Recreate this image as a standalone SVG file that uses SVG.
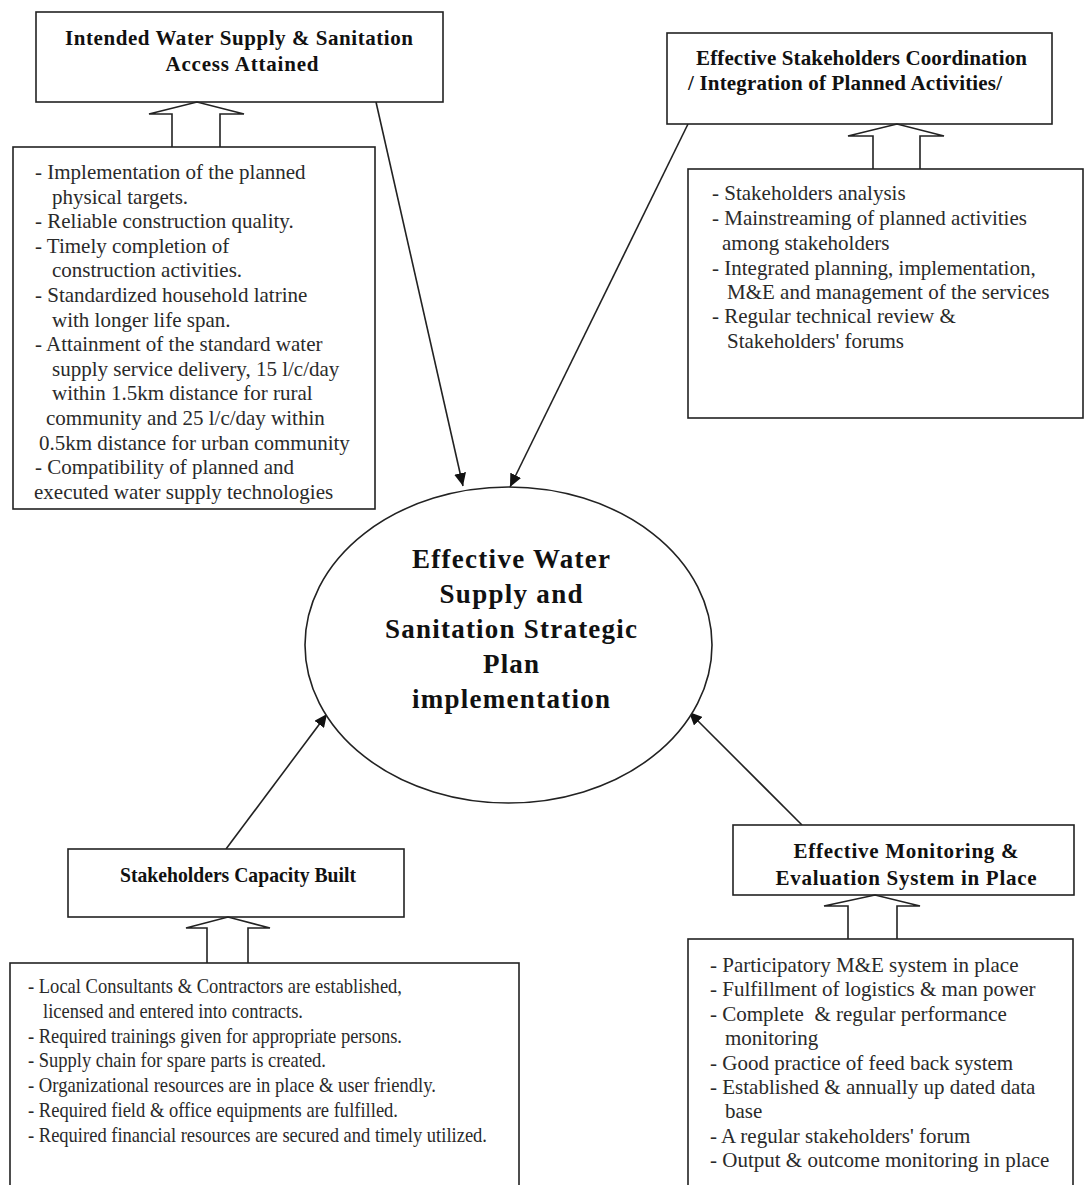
<svg xmlns="http://www.w3.org/2000/svg" width="1084" height="1185" viewBox="0 0 1084 1185">
<style>
.box{fill:#fff;stroke:#222;stroke-width:1.6}
.harrow{fill:#fff;stroke:#222;stroke-width:1.6;stroke-linejoin:miter}
.title{font-family:"Liberation Serif","Times New Roman",serif;font-weight:bold;font-size:21px;fill:#111}
.body{font-family:"Liberation Serif","Times New Roman",serif;font-size:21px;fill:#2a2a2a}
.big{font-family:"Liberation Serif","Times New Roman",serif;font-weight:bold;font-size:27px;fill:#111;text-anchor:middle}
.conn{stroke:#222;stroke-width:1.6;fill:none;marker-end:url(#ah)}
</style>
<defs>
<marker id="ah" markerUnits="userSpaceOnUse" markerWidth="14" markerHeight="12" refX="13" refY="6" orient="auto">
<path d="M0,0 L13,6 L0,12 z" fill="#111"/>
</marker>
</defs>
<rect width="1084" height="1185" fill="#fff"/>

<g id="connectors">
<line class="conn" x1="376" y1="102" x2="463" y2="486"/>
<line class="conn" x1="688" y1="124" x2="510" y2="487"/>
<line class="conn" x1="226" y1="849" x2="327" y2="714"/>
<line class="conn" x1="802" y1="825" x2="689" y2="712"/>
</g>

<g id="center">
<ellipse cx="508.5" cy="645" rx="203.5" ry="158" fill="#fff" stroke="#222" stroke-width="1.6"/>
<text class="big" x="511" y="568" textLength="198" lengthAdjust="spacing">Effective Water</text>
<text class="big" x="511" y="603" textLength="143" lengthAdjust="spacing">Supply and</text>
<text class="big" x="511" y="638" textLength="252" lengthAdjust="spacing">Sanitation Strategic</text>
<text class="big" x="511" y="673" textLength="56" lengthAdjust="spacing">Plan</text>
<text class="big" x="511" y="708" textLength="198" lengthAdjust="spacing">implementation</text>
</g>

<g id="access-header">
<rect class="box" x="36" y="12" width="407" height="90"/>
<text class="title" x="239" y="45" text-anchor="middle" textLength="348" lengthAdjust="spacing">Intended Water Supply &amp; Sanitation</text>
<text class="title" x="242" y="71" text-anchor="middle" textLength="153" lengthAdjust="spacing">Access Attained</text>
</g>
<g id="access-arrow">
<polyline class="harrow" points="172,147 172,114 149,114 197,102 244,114 220,114 220,147"/>
</g>
<g id="access-body">
<rect class="box" x="13" y="147" width="362" height="362"/>
<text class="body" x="35" y="179">- Implementation of the planned</text>
<text class="body" x="52" y="203.6">physical targets.</text>
<text class="body" x="35" y="228.2">- Reliable construction quality.</text>
<text class="body" x="35" y="252.8">- Timely completion of</text>
<text class="body" x="52" y="277.4">construction activities.</text>
<text class="body" x="35" y="302">- Standardized household latrine</text>
<text class="body" x="52" y="326.6">with longer life span.</text>
<text class="body" x="35" y="351.2">- Attainment of the standard water</text>
<text class="body" x="52" y="375.8">supply service delivery, 15 l/c/day</text>
<text class="body" x="52" y="400.4">within 1.5km distance for rural</text>
<text class="body" x="46" y="425">community and 25 l/c/day within</text>
<text class="body" x="39" y="449.6">0.5km distance for urban community</text>
<text class="body" x="35" y="474.2">- Compatibility of planned and</text>
<text class="body" x="34" y="498.8">executed water supply technologies</text>
</g>

<g id="coordination-header">
<rect class="box" x="667" y="33" width="385" height="91"/>
<text class="title" x="696" y="65" textLength="331" lengthAdjust="spacing">Effective Stakeholders Coordination</text>
<text class="title" x="688" y="90" textLength="314" lengthAdjust="spacing">/ Integration of Planned Activities/</text>
</g>
<g id="coordination-arrow">
<polyline class="harrow" points="873,169 873,136 848,136 897,124 944,136 920,136 920,169"/>
</g>
<g id="coordination-body">
<rect class="box" x="688" y="169" width="395" height="249"/>
<text class="body" x="712" y="200">- Stakeholders analysis</text>
<text class="body" x="712" y="225">- Mainstreaming of planned activities</text>
<text class="body" x="722" y="250">among stakeholders</text>
<text class="body" x="712" y="275">- Integrated planning, implementation,</text>
<text class="body" x="727" y="299">M&amp;E and management of the services</text>
<text class="body" x="712" y="323">- Regular technical review &amp;</text>
<text class="body" x="727" y="348">Stakeholders' forums</text>
</g>

<g id="capacity-header">
<rect class="box" x="68" y="849" width="336" height="68"/>
<text class="title" x="238" y="882" text-anchor="middle" textLength="236" lengthAdjust="spacingAndGlyphs">Stakeholders Capacity Built</text>
</g>
<g id="capacity-arrow">
<polyline class="harrow" points="207,963 207,928 186,928 228,917 270,928 248,928 248,963"/>
</g>
<g id="capacity-body">
<rect class="box" x="10" y="963" width="509" height="240"/>
<text class="body" x="28" y="993" textLength="374" lengthAdjust="spacingAndGlyphs">- Local Consultants &amp; Contractors are established,</text>
<text class="body" x="43" y="1017.8" textLength="260" lengthAdjust="spacingAndGlyphs">licensed and entered into contracts.</text>
<text class="body" x="28" y="1042.6" textLength="374" lengthAdjust="spacingAndGlyphs">- Required trainings given for appropriate persons.</text>
<text class="body" x="28" y="1067.4" textLength="298" lengthAdjust="spacingAndGlyphs">- Supply chain for spare parts is created.</text>
<text class="body" x="28" y="1092.2" textLength="408" lengthAdjust="spacingAndGlyphs">- Organizational resources are in place &amp; user friendly.</text>
<text class="body" x="28" y="1117" textLength="370" lengthAdjust="spacingAndGlyphs">- Required field &amp; office equipments are fulfilled.</text>
<text class="body" x="28" y="1141.8" textLength="459" lengthAdjust="spacingAndGlyphs">- Required financial resources are secured and timely utilized.</text>
</g>

<g id="monitoring-header">
<rect class="box" x="733" y="825" width="341" height="70"/>
<text class="title" x="906" y="858" text-anchor="middle" textLength="225" lengthAdjust="spacing">Effective Monitoring &amp;</text>
<text class="title" x="906" y="885" text-anchor="middle" textLength="261" lengthAdjust="spacing">Evaluation System in Place</text>
</g>
<g id="monitoring-arrow">
<polyline class="harrow" points="848,939 848,906 824,906 875,895 920,906 897,906 897,939"/>
</g>
<g id="monitoring-body">
<rect class="box" x="688" y="939" width="385" height="260"/>
<text class="body" x="710" y="972">- Participatory M&amp;E system in place</text>
<text class="body" x="710" y="996.4">- Fulfillment of logistics &amp; man power</text>
<text class="body" x="710" y="1020.8" xml:space="preserve">- Complete  &amp; regular performance</text>
<text class="body" x="725" y="1045.2">monitoring</text>
<text class="body" x="710" y="1069.6">- Good practice of feed back system</text>
<text class="body" x="710" y="1094">- Established &amp; annually up dated data</text>
<text class="body" x="725" y="1118.4">base</text>
<text class="body" x="710" y="1142.8">- A regular stakeholders' forum</text>
<text class="body" x="710" y="1167.2">- Output &amp; outcome monitoring in place</text>
</g>
</svg>
